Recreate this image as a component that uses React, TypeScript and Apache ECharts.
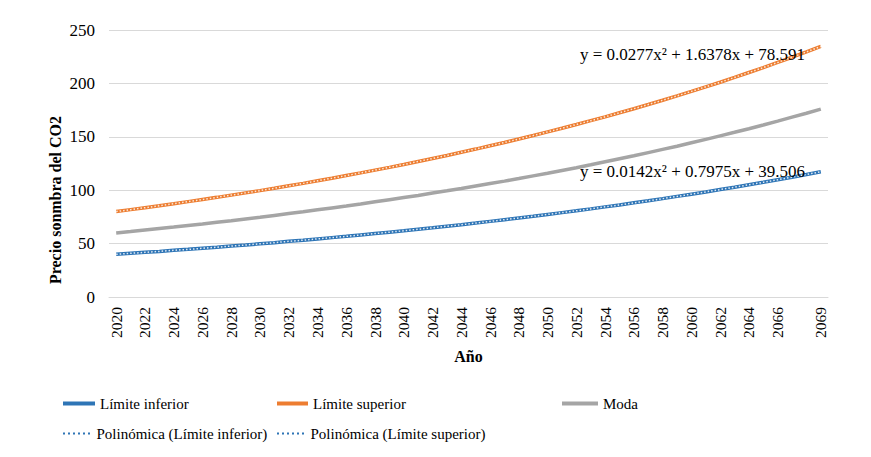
import React, { useEffect, useRef } from "react";
import * as echarts from "echarts";

const years: string[] = [];
for (let y = 2020; y <= 2069; y++) years.push(String(y));

const limiteInferior = [40.0, 40.9, 41.8, 42.7, 43.7, 44.6, 45.6, 46.6, 47.7, 48.7, 49.8, 50.9, 52.1, 53.2, 54.4, 55.6, 56.8, 58.1, 59.4, 60.7, 62.0, 63.4, 64.8, 66.3, 67.7, 69.2, 70.8, 72.4, 74.0, 75.6, 77.3, 79.0, 80.7, 82.5, 84.4, 86.2, 88.2, 90.1, 92.1, 94.2, 96.3, 98.4, 100.6, 102.8, 105.1, 107.4, 109.8, 112.2, 114.7, 117.3];
const limiteSuperior = [80.0, 81.8, 83.6, 85.4, 87.3, 89.3, 91.3, 93.3, 95.4, 97.5, 99.6, 101.8, 104.1, 106.4, 108.8, 111.2, 113.7, 116.2, 118.8, 121.4, 124.1, 126.9, 129.7, 132.5, 135.5, 138.5, 141.6, 144.7, 147.9, 151.2, 154.6, 158.0, 161.5, 165.1, 168.7, 172.5, 176.3, 180.2, 184.2, 188.3, 192.5, 196.8, 201.1, 205.6, 210.2, 214.8, 219.6, 224.5, 229.5, 234.6];
const moda = [60.0, 61.3, 62.7, 64.1, 65.5, 67.0, 68.4, 70.0, 71.5, 73.1, 74.7, 76.4, 78.1, 79.8, 81.6, 83.4, 85.2, 87.1, 89.1, 91.1, 93.1, 95.1, 97.3, 99.4, 101.6, 103.9, 106.2, 108.5, 110.9, 113.4, 115.9, 118.5, 121.1, 123.8, 126.6, 129.4, 132.2, 135.2, 138.2, 141.2, 144.4, 147.6, 150.9, 154.2, 157.6, 161.1, 164.7, 168.4, 172.1, 175.9];
const trendInferior = limiteInferior;
const trendSuperior = limiteSuperior;

const eqSuperior = "y = 0.0277x² + 1.6378x + 78.591";
const eqInferior = "y = 0.0142x² + 0.7975x + 39.506";
const yAxisTitle = "Precio sonmbra del CO2";
const xAxisTitle = "Año";

const FONT = "Liberation Serif";
const BLUE = "#2E75B6";
const ORANGE = "#ED7D31";
const GRAY = "#A5A5A5";
const DOTS =
  "path://M0,0h2v2h-2zM5,0h2v2h-2zM10,0h2v2h-2zM15,0h2v2h-2zM20,0h2v2h-2zM25,0h2v2h-2z";

export default function App() {
  const ref = useRef<HTMLDivElement>(null);
  useEffect(() => {
    if (!ref.current) return;
    const chart = echarts.init(ref.current, undefined, { renderer: "svg" });
    const legendBase = {
      orient: "horizontal",
      padding: 0,
      selectedMode: false,
      textStyle: { fontFamily: FONT, fontSize: 15, color: "#000" },
    };
    chart.setOption({
      animation: false,
      backgroundColor: "#fff",
      textStyle: { fontFamily: FONT },
      grid: { left: 109, right: 43, top: 30, bottom: 160, containLabel: false },
      xAxis: {
        type: "category",
        data: years,
        boundaryGap: true,
        name: xAxisTitle,
        nameLocation: "middle",
        nameGap: 51,
        nameTextStyle: { fontFamily: FONT, fontSize: 16, fontWeight: "bold", color: "#000" },
        axisTick: { show: false },
        axisLine: { show: true, lineStyle: { color: "#d9d9d9", width: 1 } },
        axisLabel: {
          rotate: 90,
          fontFamily: FONT,
          fontSize: 15.5,
          color: "#000",
          margin: 10,
          hideOverlap: false,
          showMaxLabel: true,
          interval: (index: number) => index % 2 === 0 || index === years.length - 1,
        },
      },
      yAxis: {
        type: "value",
        min: 0,
        max: 250,
        interval: 50,
        axisLine: { show: false },
        axisTick: { show: false },
        splitLine: { lineStyle: { color: "#d9d9d9", width: 1 } },
        axisLabel: { fontFamily: FONT, fontSize: 17, color: "#000", margin: 14 },
      },
      legend: [
        { ...legendBase, left: 63, top: 396, itemWidth: 32, itemHeight: 4, data: [{ name: "Límite inferior", icon: "rect" }] },
        { ...legendBase, left: 277, top: 396, itemWidth: 31, itemHeight: 4, data: [{ name: "Límite superior", icon: "rect" }] },
        { ...legendBase, left: 562, top: 396, itemWidth: 36, itemHeight: 4, data: [{ name: "Moda", icon: "rect" }] },
        {
          ...legendBase, left: 63, top: 426, itemWidth: 30, itemHeight: 2,
          data: [{ name: "Polinómica (Límite inferior)", icon: DOTS, itemStyle: { color: BLUE, borderWidth: 0 } }],
        },
        {
          ...legendBase, left: 277, top: 426, itemWidth: 30, itemHeight: 2,
          data: [{ name: "Polinómica (Límite superior)", icon: DOTS, itemStyle: { color: BLUE, borderWidth: 0 } }],
        },
      ],
      series: [
        { name: "Límite inferior", type: "line", data: limiteInferior, symbol: "none", color: BLUE, lineStyle: { color: BLUE, width: 3.5 }, z: 2 },
        { name: "Límite superior", type: "line", data: limiteSuperior, symbol: "none", color: ORANGE, lineStyle: { color: ORANGE, width: 3.5 }, z: 2 },
        { name: "Moda", type: "line", data: moda, symbol: "none", color: GRAY, lineStyle: { color: GRAY, width: 3.5 }, z: 2 },
        {
          name: "Polinómica (Límite inferior)", type: "line", data: trendInferior, symbol: "none", color: BLUE,
          lineStyle: { color: "rgba(235,240,248,0.95)", width: 1.5, type: [1.5, 2] }, z: 3,
        },
        {
          name: "Polinómica (Límite superior)", type: "line", data: trendSuperior, symbol: "none", color: BLUE,
          lineStyle: { color: "rgba(250,238,228,0.95)", width: 1.5, type: [1.5, 2] }, z: 3,
        },
      ],
      graphic: [
        { type: "text", left: 580, top: 46, z: 10, style: { text: eqSuperior, font: `17px ${FONT}`, fill: "#000" } },
        { type: "text", left: 580, top: 163, z: 10, style: { text: eqInferior, font: `17px ${FONT}`, fill: "#000" } },
        {
          type: "text", x: 55, y: 200, rotation: Math.PI / 2, z: 10,
          style: { text: yAxisTitle, font: `bold 16px ${FONT}`, fill: "#000", align: "center", verticalAlign: "middle" },
        },
      ],
    });
    return () => chart.dispose();
  }, []);
  return (
    <>
      <style>{`.cht svg text { font-family: "Liberation Serif", serif !important; }`}</style>
      <div className="cht" ref={ref} style={{ width: 871, height: 457, position: "absolute", left: 0, top: 0 }} />
    </>
  );
}
